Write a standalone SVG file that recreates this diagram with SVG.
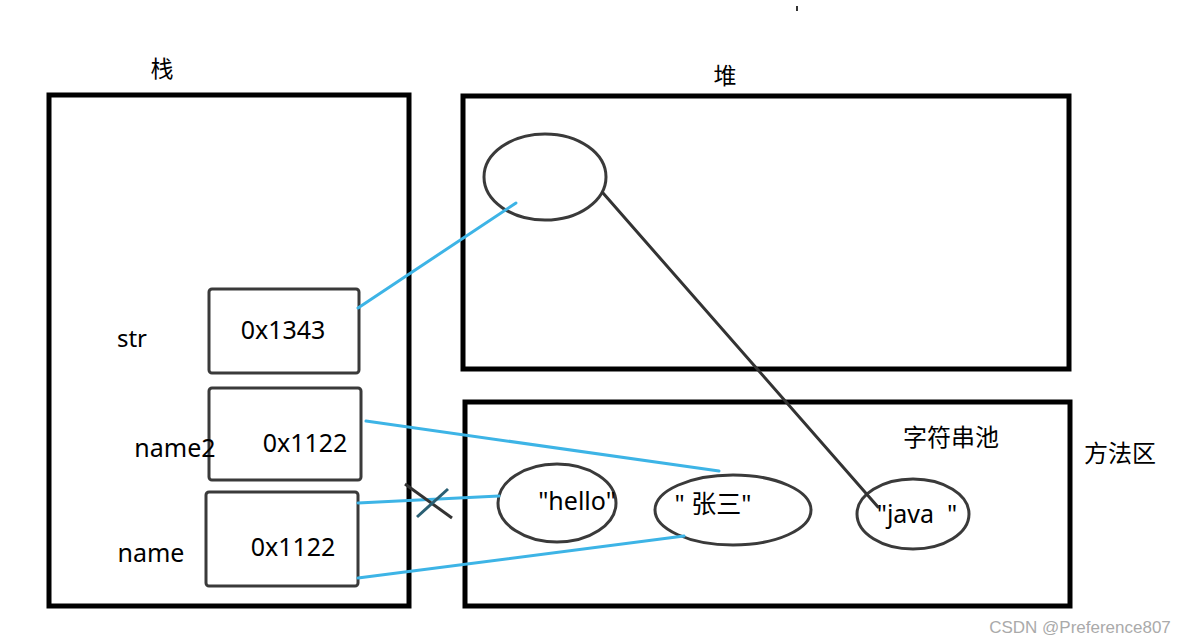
<svg xmlns="http://www.w3.org/2000/svg" width="1191" height="643" viewBox="0 0 1191 643">
<style>
.frame{fill:none;stroke:#000;stroke-width:5}
.cell{fill:none;stroke:#3a3a3a;stroke-width:3}
.obj{fill:none;stroke:#3a3a3a;stroke-width:3}
.blue{stroke:#3db4e6;stroke-width:3;fill:none;stroke-linecap:round}
.ref{stroke:#333;stroke-width:3;fill:none;stroke-linecap:round}
.t{font-family:"Noto Sans","Noto Sans CJK SC",sans-serif;fill:#000}
.cjk{font-family:"Noto Sans CJK SC","Noto Sans",sans-serif;fill:#000}
</style>
<rect width="1191" height="643" fill="#fff"/>
<g id="stack">
<rect class="frame" x="49" y="95" width="360" height="511"/>
<text class="cjk" x="162" y="77" font-size="23" text-anchor="middle">栈</text>
</g>
<g id="heap">
<rect class="frame" x="463" y="96" width="606" height="273"/>
<text class="cjk" x="725" y="84" font-size="23" text-anchor="middle">堆</text>
<ellipse class="obj" cx="545" cy="177" rx="61" ry="43"/>
</g>
<g id="method-area">
<rect class="frame" x="465" y="402" width="605" height="204"/>
<text class="cjk" x="951" y="446" font-size="24" text-anchor="middle">字符串池</text>
<text class="cjk" x="1120" y="462" font-size="24" text-anchor="middle">方法区</text>
</g>
<g id="cell-str">
<rect class="cell" x="209" y="289" width="150" height="84" rx="3"/>
<text class="t" x="132" y="347" font-size="24" text-anchor="middle">str</text>
<text class="t" x="283" y="339" font-size="25" text-anchor="middle">0x1343</text>
</g>
<g id="cell-name2">
<rect class="cell" x="209" y="388" width="152" height="92" rx="3"/>
<text class="t" x="175" y="457" font-size="25" text-anchor="middle">name2</text>
<text class="t" x="305" y="452" font-size="25" text-anchor="middle">0x1122</text>
</g>
<g id="cell-name">
<rect class="cell" x="206" y="492" width="152" height="94" rx="3"/>
<text class="t" x="151" y="562" font-size="25" text-anchor="middle">name</text>
<text class="t" x="293" y="556" font-size="25" text-anchor="middle">0x1122</text>
</g>
<g id="str-hello">
<ellipse class="obj" cx="557" cy="503" rx="59" ry="39"/>
<text class="t" x="577" y="510" font-size="25" text-anchor="middle">"hello"</text>
</g>
<g id="str-zhangsan">
<ellipse class="obj" cx="733" cy="510" rx="78" ry="35"/>
<text class="t" x="713" y="513" font-size="25" text-anchor="middle">" 张三"</text>
</g>
<g id="str-java">
<ellipse class="obj" cx="913" cy="514" rx="56" ry="35"/>
<text class="t" x="917" y="523" font-size="25" text-anchor="middle" xml:space="preserve">"java  "</text>
</g>
<g id="connectors">
<line class="blue" x1="358" y1="308" x2="516" y2="203"/>
<line class="blue" x1="366" y1="421" x2="719" y2="471"/>
<line class="blue" x1="358" y1="503" x2="499" y2="496"/>
<line class="blue" x1="358" y1="578" x2="684" y2="536"/>
<line class="ref" x1="603" y1="193" x2="878" y2="507"/>
<line x1="405" y1="484" x2="452" y2="518" stroke="#333" stroke-width="3"/>
<line x1="417" y1="517" x2="448" y2="489" stroke="#2a5f73" stroke-width="3"/>
</g>
<rect x="796" y="6" width="2" height="5" fill="#333"/>
<text x="1080" y="633" font-family="Liberation Sans, Arial, sans-serif" font-size="17" fill="#aaa" text-anchor="middle">CSDN @Preference807</text>
</svg>
